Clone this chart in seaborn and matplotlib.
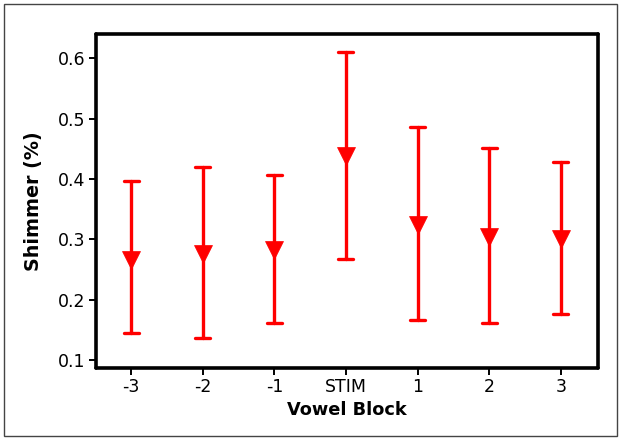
import numpy as np
import pandas as pd
import matplotlib
matplotlib.use("Agg")
import matplotlib.pyplot as plt
from matplotlib.patches import Rectangle
import seaborn as sns

categories = ["-3", "-2", "-1", "STIM", "1", "2", "3"]
means = [0.266, 0.276, 0.282, 0.438, 0.324, 0.304, 0.300]
lower = [0.145, 0.136, 0.161, 0.267, 0.166, 0.161, 0.176]
upper = [0.396, 0.420, 0.406, 0.610, 0.486, 0.451, 0.428]
yticks = [0.1, 0.2, 0.3, 0.4, 0.5, 0.6]

rows = []
for c, lo, m, hi in zip(categories, lower, means, upper):
    for v in (lo, m, hi):
        rows.append({"block": c, "shimmer": v})
df = pd.DataFrame(rows)

sns.set_style("white")
plt.rcParams["font.family"] = ["DejaVu Sans"]
plt.rcParams["text.color"] = "black"
plt.rcParams["axes.labelcolor"] = "black"
plt.rcParams["xtick.color"] = "black"
plt.rcParams["ytick.color"] = "black"

fig = plt.figure(figsize=(6.21, 4.4), dpi=100)
ax = fig.add_axes([0.1546, 0.1636, 0.963 - 0.1546, 0.9227 - 0.1636])

sns.pointplot(data=df, x="block", y="shimmer", order=categories,
              estimator=np.median, errorbar=lambda x: (x.min(), x.max()),
              color="#ff0000", markers="v", linestyle="none", capsize=0.21,
              markersize=12.5, markeredgewidth=0.5,
              err_kws={"linewidth": 2.4}, ax=ax)

ax.set_ylim(0.087, 0.64)
ax.set_xlim(-0.49, 6.52)
ax.set_yticks(yticks)
ax.set_yticklabels([f"{t:.1f}" for t in yticks])
ax.set_xlabel("Vowel Block", fontsize=12.8, fontweight="bold", labelpad=3)
ax.set_ylabel("Shimmer (%)", fontsize=13.8, fontweight="bold", labelpad=11)
ax.tick_params(axis="both", which="major", direction="out", length=5, width=1.4,
               color="black", labelcolor="black", labelsize=12.5,
               left=True, bottom=True, pad=2.5)
for s in ax.spines.values():
    s.set_visible(True)
    s.set_color("black")
    s.set_linewidth(2.6)
    s.set_joinstyle("round")
    s.set_capstyle("round")

fig.patches.append(Rectangle((4 / 621, 4 / 440), 613 / 621, 432 / 440,
                             transform=fig.transFigure, fill=False,
                             edgecolor="#444444", linewidth=1.0))

fig.savefig("out.png", dpi=100)
